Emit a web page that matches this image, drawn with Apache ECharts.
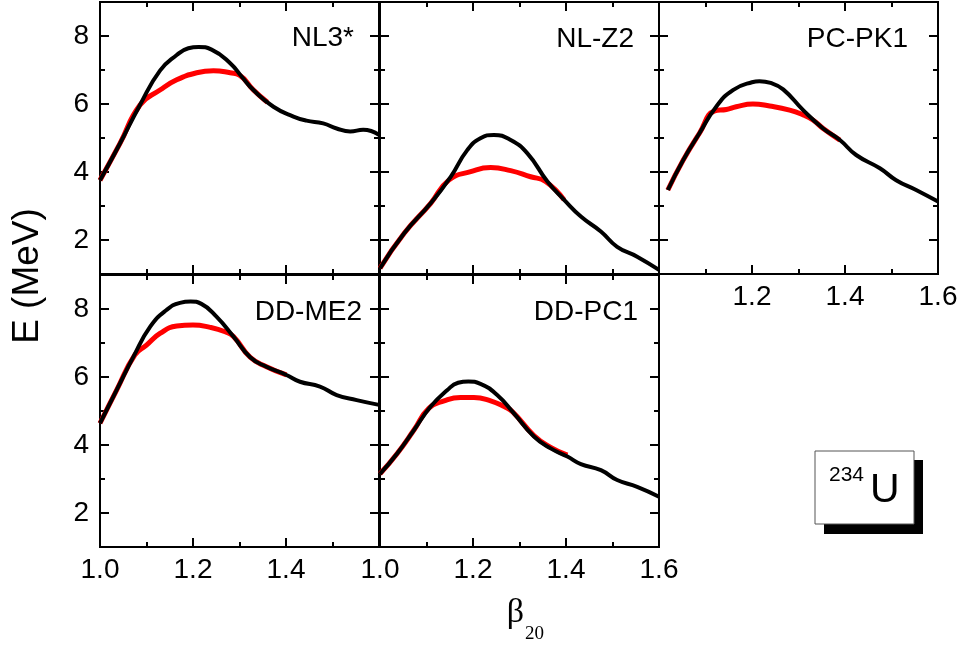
<!DOCTYPE html>
<html>
<head>
<meta charset="utf-8">
<script src="https://cdn.jsdelivr.net/npm/echarts@6/dist/echarts.min.js"></script>
<style>
  html, body { margin: 0; padding: 0; background: #fff; }
  #chart { width: 961px; height: 648px; }
</style>
</head>
<body>
<div id="chart"></div>
<script>
// panel names
const panelNames = ['NL3*', 'NL-Z2', 'PC-PK1', 'DD-ME2', 'DD-PC1']

// NL3*
const nl3BlackBeta = [1.0, 1.043, 1.086, 1.129, 1.165, 1.19, 1.212, 1.24, 1.28, 1.305, 1.33, 1.373, 1.416, 1.444, 1.48, 1.509, 1.538, 1.566, 1.6]
const nl3BlackE = [3.76, 4.84, 5.97, 6.98, 7.44, 7.64, 7.68, 7.6, 7.2, 6.8, 6.41, 5.92, 5.63, 5.51, 5.43, 5.28, 5.19, 5.24, 5.09]
const nl3RedBeta = [1.0, 1.043, 1.086, 1.129, 1.165, 1.208, 1.244, 1.28, 1.30, 1.33, 1.36]
const nl3RedE = [3.76, 4.84, 5.97, 6.41, 6.71, 6.92, 6.98, 6.92, 6.85, 6.41, 6.05]

// NL-Z2
const nlz2BlackBeta = [1.0, 1.052, 1.109, 1.152, 1.188, 1.216, 1.245, 1.281, 1.317, 1.36, 1.396, 1.432, 1.475, 1.51, 1.553, 1.6]
const nlz2BlackE = [1.17, 2.2, 3.08, 3.86, 4.65, 4.99, 5.09, 4.94, 4.55, 3.72, 3.18, 2.69, 2.25, 1.80, 1.51, 1.12]
const nlz2RedBeta = [1.0, 1.052, 1.109, 1.148, 1.195, 1.238, 1.281, 1.324, 1.356, 1.396]
const nlz2RedE = [1.17, 2.2, 3.08, 3.76, 4.01, 4.13, 4.04, 3.86, 3.72, 3.18]

// PC-PK1
const pcpk1BlackBeta = [1.019, 1.052, 1.087, 1.123, 1.159, 1.2, 1.216, 1.24, 1.267, 1.31, 1.353, 1.389, 1.424, 1.475, 1.51, 1.553, 1.6]
const pcpk1BlackE = [3.47, 4.35, 5.14, 5.92, 6.41, 6.64, 6.67, 6.62, 6.43, 5.82, 5.28, 4.94, 4.5, 4.11, 3.76, 3.47, 3.13]
const pcpk1RedBeta = [1.019, 1.052, 1.087, 1.12, 1.145, 1.166, 1.202, 1.238, 1.281, 1.31, 1.331, 1.353, 1.389]
const pcpk1RedE = [3.47, 4.35, 5.14, 5.8, 5.84, 5.92, 6.0, 5.94, 5.82, 5.68, 5.53, 5.28, 4.94]

// DD-ME2
const ddme2BlackBeta = [1.0, 1.036, 1.072, 1.108, 1.143, 1.172, 1.195, 1.218, 1.251, 1.287, 1.323, 1.358, 1.401, 1.43, 1.473, 1.509, 1.552, 1.6]
const ddme2BlackE = [4.64, 5.62, 6.6, 7.48, 7.97, 8.18, 8.22, 8.15, 7.77, 7.19, 6.58, 6.30, 6.06, 5.86, 5.72, 5.47, 5.32, 5.18]
const ddme2RedBeta = [1.0, 1.036, 1.075, 1.1, 1.129, 1.165, 1.2, 1.237, 1.269, 1.287, 1.323, 1.358, 1.401]
const ddme2RedE = [4.64, 5.62, 6.65, 6.94, 7.28, 7.5, 7.53, 7.46, 7.33, 7.19, 6.58, 6.30, 6.06]

// DD-PC1
const ddpc1BlackBeta = [1.0, 1.037, 1.073, 1.109, 1.145, 1.168, 1.19, 1.216, 1.252, 1.288, 1.331, 1.367, 1.403, 1.432, 1.475, 1.51, 1.553, 1.6]
const ddpc1BlackE = [3.15, 3.75, 4.44, 5.13, 5.62, 5.83, 5.87, 5.8, 5.47, 4.93, 4.25, 3.9, 3.66, 3.44, 3.26, 2.97, 2.77, 2.48]
const ddpc1RedBeta = [1.0, 1.037, 1.073, 1.105, 1.138, 1.173, 1.202, 1.238, 1.267, 1.285, 1.331, 1.367, 1.403]
const ddpc1RedE = [3.15, 3.75, 4.44, 5.08, 5.30, 5.4, 5.4, 5.30, 5.13, 4.98, 4.28, 3.93, 3.70]

// tick labels
const xTicks = [1.0, 1.2, 1.4, 1.6]
const yTicks = [2, 4, 6, 8]

const curves = [
  [nl3BlackBeta, nl3BlackE, nl3RedBeta, nl3RedE],
  [nlz2BlackBeta, nlz2BlackE, nlz2RedBeta, nlz2RedE],
  [pcpk1BlackBeta, pcpk1BlackE, pcpk1RedBeta, pcpk1RedE],
  [ddme2BlackBeta, ddme2BlackE, ddme2RedBeta, ddme2RedE],
  [ddpc1BlackBeta, ddpc1BlackE, ddpc1RedBeta, ddpc1RedE]
]

const FONT = 'Liberation Sans, Arial, sans-serif'

// panel layout: left, top
const panelPos = [[100, 2], [380, 2], [659, 2], [100, 275], [380, 275]]
// which x labels each panel shows
const xLabelShow = [null, null, xTicks.slice(1), xTicks.slice(0, 3), xTicks]
const yLabelShow = [true, false, false, true, false]
// panel name position (right edge, middle)
const namePos = [[354, 38], [634, 39], [908, 39], [362, 312], [638, 312]]

const pair = (xs, ys) => xs.map((x, i) => [x, ys[i]])

const grids = []
const xAxes = []
const yAxes = []
const series = []

panelPos.forEach((p, k) => {
  grids.push({
    left: p[0], top: p[1], width: 279, height: 272,
    show: true, borderColor: '#000', borderWidth: 2, backgroundColor: 'transparent'
  })

  // bottom and top x axes
  ;['bottom', 'top'].forEach(pos => {
    const labels = pos === 'bottom' ? xLabelShow[k] : null
    xAxes.push({
      gridIndex: k, type: 'value', position: pos,
      min: 1.0, max: 1.6, interval: 0.2,
      axisLine: { show: false },
      axisTick: { show: true, inside: true, length: 9, lineStyle: { color: '#000', width: 2 } },
      minorTick: { show: true, splitNumber: 2, length: 5, lineStyle: { color: '#000', width: 2 } },
      splitLine: { show: false },
      axisLabel: labels ? {
        show: true, customValues: labels, margin: 9,
        fontSize: 28, fontFamily: FONT, color: '#000',
        formatter: v => Number(v).toFixed(1)
      } : { show: false }
    })
  })

  // left/right y axes: major (long ticks at even) + minor (short ticks every 1)
  ;['left', 'right'].forEach(pos => {
    const showLab = pos === 'left' && yLabelShow[k]
    yAxes.push({
      gridIndex: k, type: 'value', position: pos,
      min: 1, max: 9, interval: 1,
      axisLine: { show: false },
      axisTick: { show: true, inside: true, length: 9, customValues: yTicks, lineStyle: { color: '#000', width: 2 } },
      splitLine: { show: false },
      axisLabel: showLab ? {
        show: true, customValues: yTicks, margin: 11,
        fontSize: 28, fontFamily: FONT, color: '#000'
      } : { show: false }
    })
    yAxes.push({
      gridIndex: k, type: 'value', position: pos,
      min: 1, max: 9, interval: 1,
      axisLine: { show: false },
      axisTick: { show: true, inside: true, length: 5, lineStyle: { color: '#000', width: 2 } },
      splitLine: { show: false },
      axisLabel: { show: false }
    })
  })

  const c = curves[k]
  // red first, black on top
  series.push({
    type: 'line', xAxisIndex: 2 * k, yAxisIndex: 4 * k,
    data: pair(c[2], c[3]), smooth: 0.5, showSymbol: false,
    lineStyle: { color: '#ff0000', width: 5 }, z: 2
  })
  series.push({
    type: 'line', xAxisIndex: 2 * k, yAxisIndex: 4 * k,
    data: pair(c[0], c[1]), smooth: 0.5, showSymbol: false,
    lineStyle: { color: '#000', width: 4 }, z: 3
  })
})

const graphics = panelNames.map((name, k) => ({
  type: 'text', x: namePos[k][0], y: namePos[k][1],
  style: { text: name, font: '28px ' + FONT, fill: '#000', textAlign: 'right', textVerticalAlign: 'middle' }
}))

// axis names
graphics.push({
  type: 'text', x: 28, y: 276, rotation: Math.PI / 2,
  style: { text: 'E (MeV)', font: '37px ' + FONT, fill: '#000', textAlign: 'center', textVerticalAlign: 'middle' }
})
graphics.push({
  type: 'text', x: 524, y: 613,
  style: { text: 'β', font: '34px Liberation Serif, Times New Roman, serif', fill: '#000', textAlign: 'right', textVerticalAlign: 'middle' }
})
graphics.push({
  type: 'text', x: 525, y: 634,
  style: { text: '20', font: '19px Liberation Serif, Times New Roman, serif', fill: '#000', textAlign: 'left', textVerticalAlign: 'middle' }
})

// nucleus box with shadow
graphics.push({ type: 'rect', shape: { x: 824, y: 460, width: 99, height: 74 }, style: { fill: '#000' } })
graphics.push({ type: 'rect', shape: { x: 815, y: 451, width: 99, height: 73 }, style: { fill: '#fff', stroke: '#555', lineWidth: 1 } })
graphics.push({
  type: 'text', x: 829, y: 475,
  style: { text: '234', font: '21px ' + FONT, fill: '#000', textAlign: 'left', textVerticalAlign: 'middle' }
})
graphics.push({
  type: 'text', x: 870, y: 491,
  style: { text: 'U', font: '41px ' + FONT, fill: '#000', textAlign: 'left', textVerticalAlign: 'middle' }
})

const chart = echarts.init(document.getElementById('chart'))
chart.setOption({
  animation: false,
  grid: grids,
  xAxis: xAxes,
  yAxis: yAxes,
  series: series,
  graphic: graphics
})
</script>
</body>
</html>
